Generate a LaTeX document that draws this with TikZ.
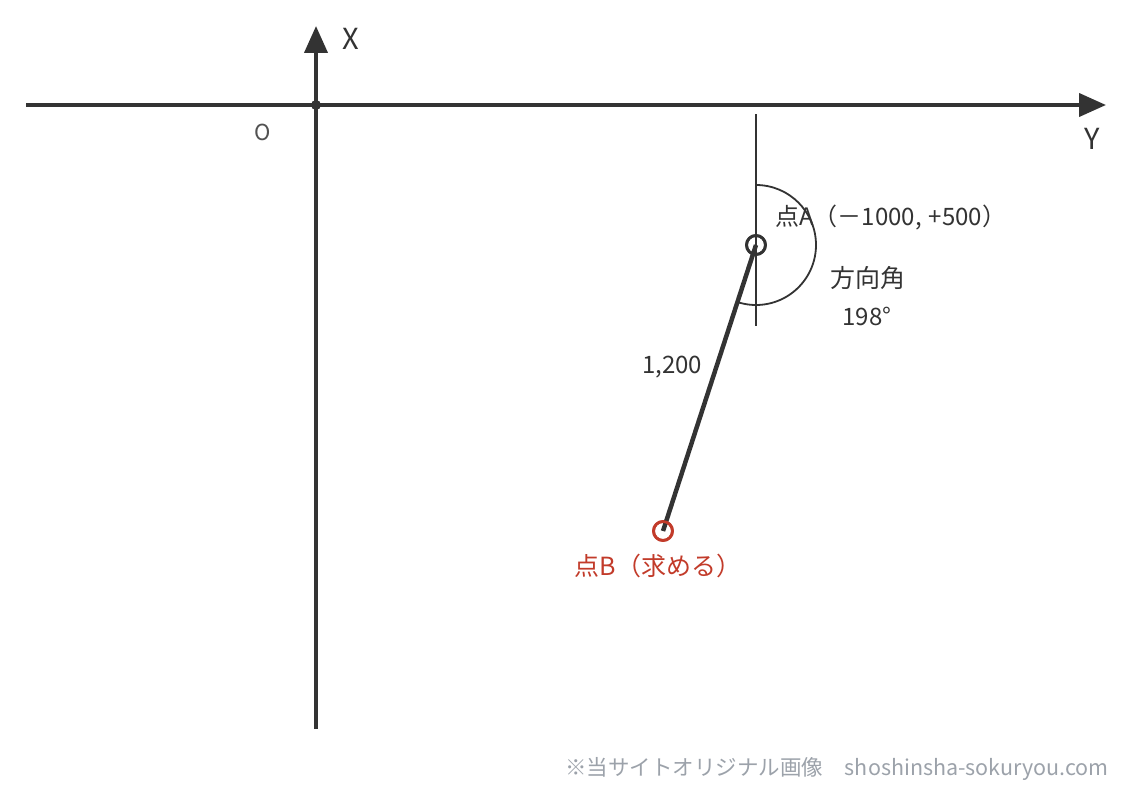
\documentclass[tikz,border=0pt]{standalone}
\usepackage{fontspec}
\setmainfont{Noto Sans CJK JP}
\usetikzlibrary{arrows.meta}
\definecolor{ink}{HTML}{333333}
\definecolor{redc}{HTML}{C23B2A}
\definecolor{wm}{HTML}{9CA2AA}
\tikzset{
  axis/.style={draw=ink, line width=4pt, -{Triangle[length=27pt,width=23pt]}},
  lbl/.style={text=ink, font=\fontsize{24}{28}\selectfont, inner sep=0pt},
  axl/.style={text=ink, font=\fontsize{29}{32}\selectfont, inner sep=0pt},
  thin/.style={draw=ink, line width=1.8pt},
}
\begin{document}
\begin{tikzpicture}[x=1pt,y=-1pt]
\useasboundingbox (0,0) rectangle (1126,792);
% axes
\coordinate (hL) at (26,105);
\coordinate (hR) at (1106,105);
\coordinate (vB) at (316,729);
\coordinate (vT) at (316,26);
\node[circle, fill=ink, inner sep=0pt, minimum size=10pt] (O) at (316,105) {};
\draw[axis] (hL) -- (hR);
\draw[axis] (vB) -- (vT);
\node[axl] (xl) at (351,39) {X};
\node[axl] (yl) at (1092,139) {Y};
\node[lbl, font=\fontsize{22}{24}\selectfont, text=ink!85] (ol) at (263,132) {O};
% north line at A
\coordinate (nT) at (756,114);
\coordinate (nB) at (756,326);
\draw[thin] (nT) -- (nB);
% arc
\draw[thin] (756,185) arc[start angle=-90, end angle=108, radius=60];
% A and B
\node[circle, draw=ink, line width=2.8pt, minimum size=19pt, inner sep=0pt] (A) at (756,245) {};
\node[circle, draw=redc, line width=2.8pt, minimum size=19pt, inner sep=0pt] (B) at (663,531) {};
\draw[draw=ink, line width=4.5pt] (A.center) -- (B.center);
\node[circle, draw=ink, line width=2.8pt, minimum size=19pt, inner sep=0pt] at (756,245) {};
\node[circle, draw=redc, line width=2.8pt, minimum size=19pt, inner sep=0pt] at (663,531) {};
% labels
\node[lbl, anchor=west] (al) at (775,218) {点A（－1000,\hspace{7pt}+500）};
\node[lbl, font=\fontsize{25}{28}\selectfont] (dir) at (868,278) {方向角};
\node[lbl] (deg) at (867,316) {198°};
\node[lbl] (len) at (672,367) {1,200};
\node[lbl, text=redc, font=\fontsize{25}{28}\selectfont] (bl) at (658,566) {点B（求める）};
\node[lbl, text=wm, anchor=east, font=\fontsize{21.5}{24}\selectfont] (wmk) at (1109,769) {※当サイトオリジナル画像　shoshinsha-sokuryou.com};
\end{tikzpicture}
\end{document}
